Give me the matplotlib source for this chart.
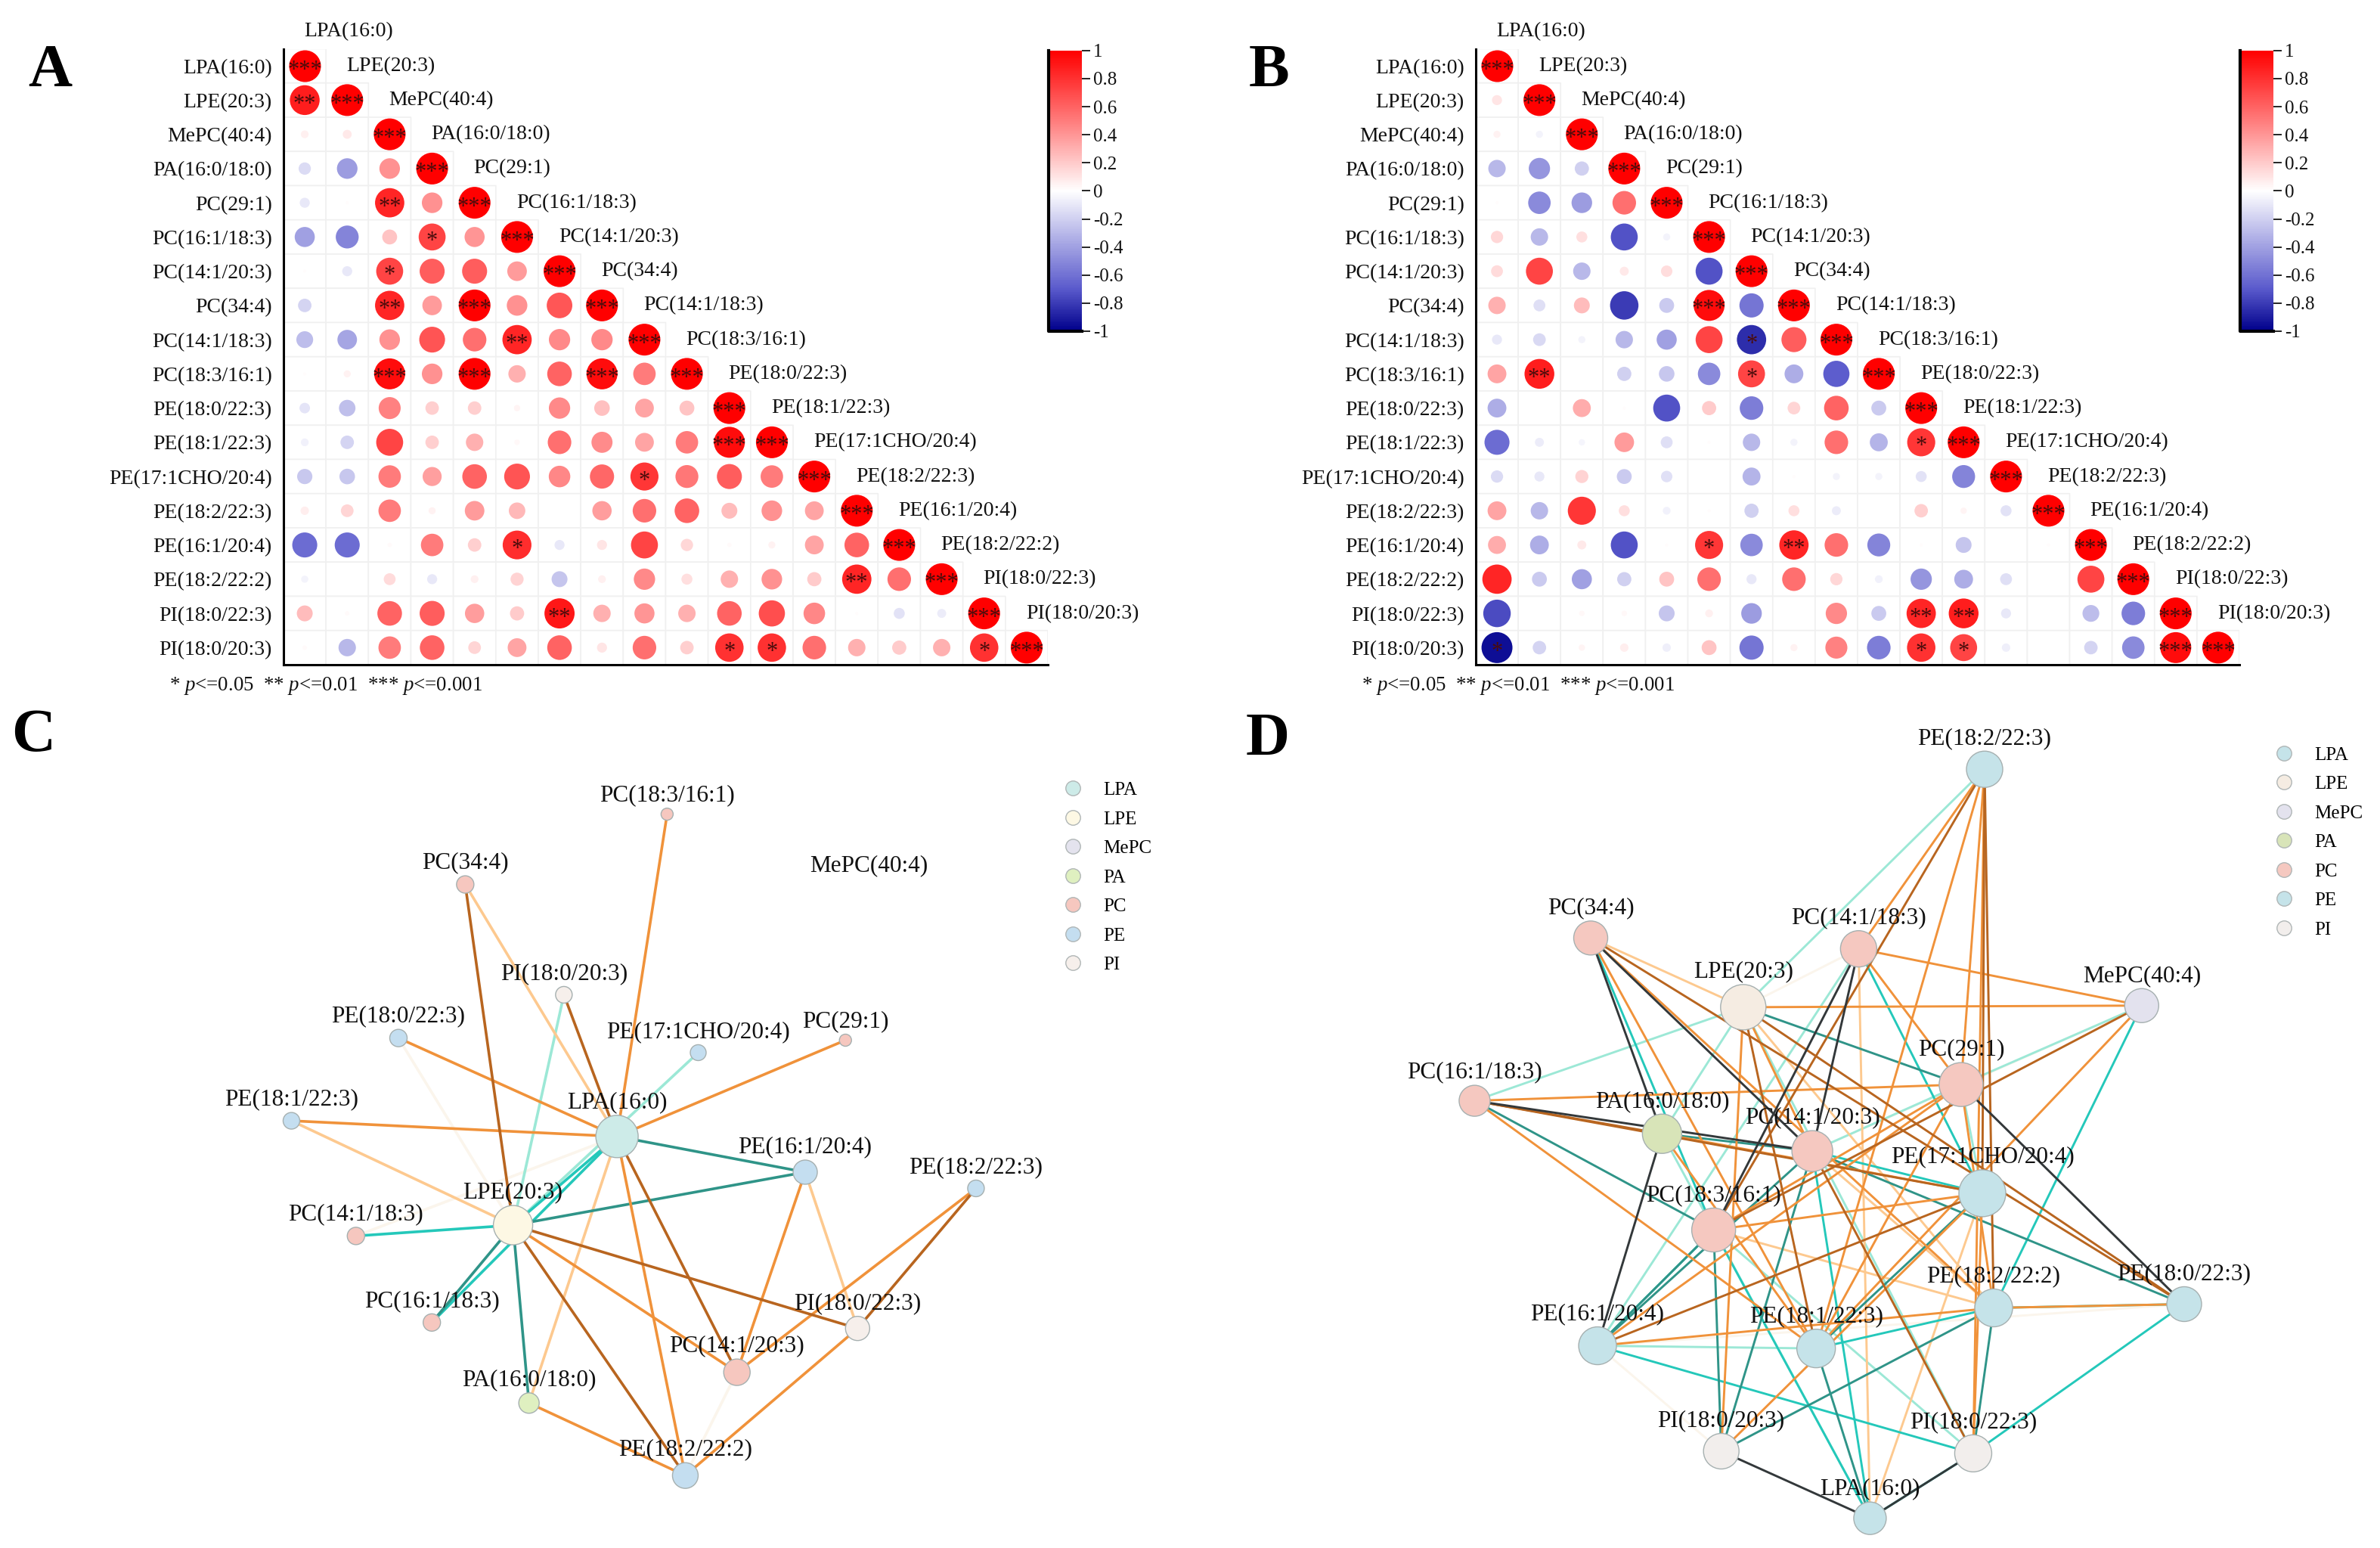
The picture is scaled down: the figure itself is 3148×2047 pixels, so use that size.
import numpy as np
import matplotlib
matplotlib.use('Agg')
import matplotlib.pyplot as plt
from matplotlib.colors import LinearSegmentedColormap, ListedColormap, Normalize
from matplotlib.cm import ScalarMappable
from matplotlib.lines import Line2D
from matplotlib.transforms import ScaledTranslation

plt.rcParams['font.family'] = ['Liberation Serif', 'DejaVu Serif']
plt.rcParams['mathtext.fontset'] = 'custom'
plt.rcParams['mathtext.rm'] = 'Liberation Serif'
plt.rcParams['mathtext.it'] = 'Liberation Serif:italic'

W, H = 3148, 2047

# Lipid names
LPA = 'LPA(16:0)'
LPE = 'LPE(20:3)'
MEPC = 'MePC(40:4)'
PA = 'PA(16:0/18:0)'
PC29 = 'PC(29:1)'
PC16 = 'PC(16:1/18:3)'
PC1420 = 'PC(14:1/20:3)'
PC34 = 'PC(34:4)'
PC1418 = 'PC(14:1/18:3)'
PC18 = 'PC(18:3/16:1)'
PE180 = 'PE(18:0/22:3)'
PE181 = 'PE(18:1/22:3)'
PE17 = 'PE(17:1CHO/20:4)'
PE223 = 'PE(18:2/22:3)'
PE161 = 'PE(16:1/20:4)'
PE222 = 'PE(18:2/22:2)'
PI223 = 'PI(18:0/22:3)'
PI203 = 'PI(18:0/20:3)'
lipids = [LPA, LPE, MEPC, PA, PC29, PC16, PC1420, PC34, PC1418, PC18,
          PE180, PE181, PE17, PE223, PE161, PE222, PI223, PI203]

# Correlation values, lower triangle, row by row
corr_a = [
    [1],
    [.88, 1],
    [.06, .08, 1],
    [-.15, -.42, .42, 1],
    [-.1, .01, .85, .42, 1],
    [-.4, -.52, .22, .72, .4, 1],
    [.01, -.1, .72, .62, .62, .38, 1],
    [-.18, 0, .85, .38, 1, .42, .65, 1],
    [-.28, -.38, .42, .66, .55, .85, .45, .45, 1],
    [.01, .05, .95, .42, 1, .3, .6, .95, .5, 1],
    [-.11, -.27, .48, .18, .18, .04, .45, .24, .35, .22, 1],
    [-.06, -.18, .72, .18, .3, .03, .55, .44, .35, .5, .95, 1],
    [-.23, -.24, .5, .36, .6, .66, .46, .58, .78, .52, .62, .5, 1],
    [.07, .16, .5, .05, .38, .27, 0, .37, .55, .6, .25, .42, .35, 1],
    [-.62, -.62, .02, .5, .18, .82, -.1, .1, .72, .15, .02, .05, .35, .6, 1],
    [-.05, 0, .14, -.1, .06, .17, -.25, .06, .45, .12, .3, .42, .2, .85, .55, 1],
    [.25, .02, .6, .62, .37, .2, .9, .3, .4, .3, .6, .68, .46, .01, -.12, -.08, 1],
    [.02, -.3, .5, .6, .16, .35, .6, .1, .55, .18, .8, .8, .55, .3, .2, .3, .8, 1],
]
corr_b = [
    [1],
    [.1, 1],
    [.05, -.05, 1],
    [-.3, -.45, -.2, 1],
    [.01, -.5, -.42, .55, 1],
    [.15, -.3, .12, -.72, -.05, 1],
    [.14, .72, -.3, .08, .13, -.72, 1],
    [.3, -.14, .25, -.8, -.22, .95, -.58, 1],
    [-.1, -.16, -.05, -.3, -.4, .72, -.85, .62, 1],
    [.35, .88, 0, -.2, -.24, -.5, .72, -.35, -.68, 1],
    [-.35, 0, .32, .01, -.72, .2, -.55, .16, .6, -.22, 1],
    [-.62, -.08, -.04, .38, -.14, .01, -.3, -.05, .55, -.32, .78, 1],
    [-.15, -.1, .17, -.22, -.13, 0, -.32, .01, -.05, -.05, -.12, -.52, 1],
    [.35, -.3, .78, .12, -.06, .01, -.2, .12, -.08, 0, .18, .04, -.12, 1],
    [.32, -.35, .08, -.72, .01, .78, -.5, .85, .55, -.52, .01, -.25, 0, .01, 1],
    [.85, -.22, -.4, -.2, .22, .55, -.1, .55, .15, -.06, -.45, -.35, -.14, 0, .72, 1],
    [-.75, 0, .03, .03, -.25, .06, -.42, 0, .45, -.22, .85, .88, -.1, 0, -.28, -.55, 1],
    [-.95, -.18, .04, .07, -.07, .22, -.58, .05, .48, -.55, .8, .72, -.07, 0, -.18, -.5, .95, 1],
]

# Significance stars off the diagonal: (row, column, number of stars)
stars_a = [(1, 0, 2), (4, 2, 2), (5, 3, 1), (6, 2, 1), (7, 2, 2), (7, 4, 3), (8, 5, 2),
           (9, 2, 3), (9, 4, 3), (9, 7, 3), (11, 10, 3), (12, 8, 1), (14, 5, 1),
           (15, 13, 2), (16, 6, 2), (17, 10, 1), (17, 11, 1), (17, 16, 1)]
stars_b = [(7, 5, 3), (8, 6, 1), (9, 1, 2), (9, 6, 1), (11, 10, 1), (14, 5, 1), (14, 7, 2),
           (16, 10, 2), (16, 11, 2), (17, 0, 1), (17, 10, 1), (17, 11, 1), (17, 16, 3)]

cbar_ticks = [1, .8, .6, .4, .2, 0, -.2, -.4, -.6, -.8, -1]

# Network C: layout position and node size
c_nodes = [LPA, LPE, PC18, PC34, PI203, PE180, PE17, PC29, PE181, PE161, PE223,
           PC1418, PC16, PI223, PC1420, PA, PE222]
c_x = [813, 676, 879, 613, 743, 525, 920, 1114, 384, 1061, 1286, 469, 569, 1130, 971, 697, 903]
c_y = [801, 965, 205, 335, 539, 619, 646, 623, 772, 867, 897, 985, 1145, 1156, 1237, 1294, 1428]
c_size = [56, 52, 16, 23, 22, 23, 21, 16, 22, 32, 22, 23, 23, 32, 35, 27, 34]
c_group = ['LPA', 'LPE', 'PC', 'PC', 'PI', 'PE', 'PE', 'PC', 'PE', 'PE', 'PE',
           'PC', 'PC', 'PI', 'PC', 'PA', 'PE']

c_orange = [(PC18, LPA), (PE180, LPA), (PC29, LPA), (PE181, LPA), (LPA, PE222), (LPE, PC1420),
            (PE161, PC1420), (PE223, PC1420), (PI223, PE222), (PA, PE222)]
c_light = [(PC34, LPA), (PE181, LPE), (LPA, PA), (PE161, PI223)]
c_brown = [(PC34, LPE), (PI203, LPA), (LPE, PE222), (LPA, PC1420), (LPE, PI223), (PE223, PI223)]
c_teal = [(LPA, PE161), (LPE, PE161), (LPE, PC16), (LPE, PA)]
c_turq = [(LPA, LPE), (PC1418, LPE), (LPA, PC16)]
c_aqua = [(PI203, LPE), (PE17, LPE)]
c_pale = [(PE180, LPE), (PC1418, LPA), (PC1420, PE222)]

# Network D
d_nodes = [PE223, PC34, PC1418, LPE, MEPC, PC29, PC16, PA, PC1420, PE17, PC18,
           PE222, PE180, PE161, PE181, PI203, PI223, LPA]
d_x = [1047, 528, 881, 729, 1254, 1016, 375, 622, 820, 1044, 690, 1059, 1310, 537, 825, 700, 1032, 896]
d_y = [122, 434, 454, 562, 559, 705, 735, 796, 828, 906, 974, 1118, 1111, 1188, 1193, 1383, 1387, 1507]
d_size = [48, 45, 48, 60, 45, 58, 41, 52, 54, 62, 58, 50, 46, 50, 51, 47, 49, 43]
d_group = ['PE', 'PC', 'PC', 'LPE', 'MePC', 'PC', 'PC', 'PA', 'PC', 'PE', 'PC',
           'PE', 'PE', 'PE', 'PE', 'PI', 'PI', 'LPA']

d_orange = [(PE223, PC1418), (PE223, PC29), (PE223, PE181), (PE223, PI223), (PC34, PE222), (PC34, PE181),
            (PC1418, MEPC), (PC1418, PC29), (LPE, MEPC), (LPE, PC1420), (LPE, PI203), (MEPC, PE181),
            (PC29, PC16), (PC29, PC18), (PC29, PE222), (PC29, PE181), (PC29, PE161), (PC16, PE181),
            (PA, PE17), (PA, PE181), (PE17, PC18), (PE17, PI203), (PE17, PI223), (PE222, PE180),
            (PE222, PE161)]
d_light = [(PC34, LPE), (LPE, PE222), (PC1420, PE222), (PE17, LPA), (PC18, PE222), (PC1418, LPA)]
d_brown = [(PE223, PC18), (PE223, PE17), (PE223, PE222), (PC34, PE180), (LPE, PE180), (LPE, PE181),
           (MEPC, PC18), (PC16, PA), (PC16, PE17), (PC1420, PI223), (PE17, PE161)]
d_teal = [(LPE, PC29), (PA, PC1420), (PC1420, PE180), (PC1420, PE161), (PC1420, PI203), (PC16, PC18),
          (PE17, PE181), (PC18, PE161), (PC18, PI203), (PE222, PI203), (PE222, PI223), (PE181, LPA)]
d_turq = [(PC34, PC18), (PC1418, PE17), (MEPC, PE222), (PC1420, PE17), (PC1420, LPA), (PC18, LPA),
          (PC18, PE161), (PE222, PE180), (PE222, PE181), (PE180, PI223), (PE161, PI223), (PI223, LPA)]
d_aqua = [(PE223, LPE), (PC1418, PE161), (LPE, PC16), (LPE, PA), (LPE, PI223), (MEPC, PC29),
          (PC29, PC1420), (PC29, PE17), (PA, LPA), (PC18, PI223), (PE161, PE181)]
d_dark = [(PC34, PA), (PC34, PC1420), (PC1418, PC18), (PC1418, PC1420), (PC29, PE180), (PC16, PC1420),
          (PA, PE161), (PI203, LPA), (PI223, LPA)]
d_pale = [(MEPC, PC1420), (PE180, PE161), (PE161, PI203), (LPE, PC1418)]

legend_groups = ['LPA', 'LPE', 'MePC', 'PA', 'PC', 'PE', 'PI']
c_colors = {'LPA': '#cdebe8', 'LPE': '#fdf8e4', 'MePC': '#e4e3ee', 'PA': '#dff0c0',
            'PC': '#f6c7bf', 'PE': '#c4def0', 'PI': '#f6efeb'}
d_colors = {'LPA': '#c5e3e9', 'LPE': '#f5ece2', 'MePC': '#e3e2ee', 'PA': '#d8e4b8',
            'PC': '#f5c8c0', 'PE': '#c5e3e9', 'PI': '#f2eeec'}

ORANGE, LIGHT, BROWN = '#f0923a', '#fdc98f', '#b8651f'
TEAL, TURQ, AQUA, PALE, DARK = '#2f9488', '#24c8ba', '#9ce8d6', '#fbf5ec', '#33383a'

cmap = LinearSegmentedColormap.from_list('corr', [(0, '#00008b'), (.15, '#5a5acc'), (.5, '#ffffff'),
                                                  (.75, '#ff7c7c'), (1, '#ff0000')])
norm = Normalize(-1, 1)

fig = plt.figure(figsize=(W / 100, H / 100), dpi=100, facecolor='white')
star_shift = ScaledTranslation(0, -6 / 100, fig.dpi_scale_trans)


def px_axes(left, top, right, bottom):
    return fig.add_axes([left / W, 1 - bottom / H, (right - left) / W, (bottom - top) / H])


def corr_panel(left, right, cbar_left, rows, stars):
    ax = px_axes(left, 64.5, right, 879)
    n = len(lipids)
    grid = np.ma.masked_where(np.triu(np.ones((n, n)), 1) > 0, np.zeros((n, n)))
    ax.pcolor(np.arange(n + 1) - .5, np.arange(n + 1) - .5, grid,
              cmap=ListedColormap(['white']), edgecolors='#f0f0f0', linewidth=1.2)
    star_text = [(i, i, 3) for i in range(n)] + stars
    for i, row in enumerate(rows):
        vals = np.array(row)
        ax.scatter(np.arange(len(vals)), np.full(len(vals), i), s=915 * np.abs(vals),
                   c=vals, cmap=cmap, norm=norm, linewidths=0, zorder=3)
        ax.text(i - .02, i - 1, lipids[i], ha='left', va='center', fontsize=20, color='#111111')
    for r, c, k in star_text:
        ax.text(c, r, '*' * k, ha='center', va='center', fontsize=22, color='#4a0c0c', zorder=4,
                transform=ax.transData + star_shift)
    ax.set_xlim(-.5, n - .5)
    ax.set_ylim(n - .5, -.5)
    ax.set_xticks([])
    ax.set_yticks(np.arange(n))
    ax.set_yticklabels(lipids, fontsize=20, color='#111111')
    ax.tick_params(axis='y', length=0, pad=11)
    for s in ['top', 'right']:
        ax.spines[s].set_visible(False)
    for s in ['left', 'bottom']:
        ax.spines[s].set_linewidth(2.2)
    ax.annotate(r'* $\mathit{p}$<=0.05  ** $\mathit{p}$<=0.01  *** $\mathit{p}$<=0.001',
                xy=(0, 0), xycoords='axes fraction', xytext=(-109, -20), textcoords='offset points',
                ha='left', va='center', fontsize=19.4, color='#111111')

    cax = px_axes(cbar_left, 66.8, cbar_left + 44, 438)
    cb = fig.colorbar(ScalarMappable(norm=norm, cmap=cmap), cax=cax, ticks=cbar_ticks)
    cb.ax.set_yticklabels([f'{t:g}' for t in cbar_ticks], fontsize=18, color='#111111')
    cb.ax.tick_params(length=8, width=1.2, pad=3)
    cb.outline.set_visible(False)
    cb.ax.plot([0, 0, 1], [1, -1, -1], color='black', lw=3, clip_on=False, zorder=5)
    return ax


def network_panel(left, top, right, bottom, names, xs, ys, sizes, groups, colors, edges, legend_xy, lw):
    ax = px_axes(left, top, right, bottom)
    ax.set_xlim(0, 1568)
    ax.set_ylim(1562, 0)
    ax.axis('off')
    pos = {name: (x, y) for name, x, y in zip(names, xs, ys)}
    for pairs, col in edges:
        for a, b in pairs:
            ax.plot([pos[a][0], pos[b][0]], [pos[a][1], pos[b][1]], color=col, lw=lw, zorder=1,
                    solid_capstyle='round')
    ax.scatter(xs, ys, s=(np.array(sizes) * .72) ** 2, c=[colors[g] for g in groups],
               edgecolors='#a6b0b0', linewidths=1, zorder=2)
    for name, x, y, d in zip(names, xs, ys, sizes):
        ax.annotate(name, xy=(x, y), xytext=(0, (d / 2 + 17) * .72), textcoords='offset points',
                    ha='center', va='center', fontsize=22.5, color='#111111', zorder=3)
    handles = [Line2D([], [], ls='', marker='o', ms=14, mfc=colors[g], mec='#b0b6b6', mew=1, label=g)
               for g in legend_groups]
    ax.legend(handles=handles, loc='upper left', bbox_to_anchor=legend_xy, bbox_transform=ax.transData,
              frameon=False, fontsize=18, labelspacing=.64, handletextpad=1.1, borderpad=0, borderaxespad=0,
              handlelength=1)
    return ax


corr_panel(375, 1386, 1387, corr_a, stars_a)
corr_panel(1952, 2962, 2963, corr_b, stars_b)

c_edges = [(c_pale, PALE), (c_aqua, AQUA), (c_light, LIGHT), (c_turq, TURQ), (c_teal, TEAL),
           (c_orange, ORANGE), (c_brown, BROWN)]
d_edges = [(d_pale, PALE), (d_aqua, AQUA), (d_light, LIGHT), (d_turq, TURQ), (d_teal, TEAL),
           (d_orange, ORANGE), (d_brown, BROWN), (d_dark, DARK)]

ax_c = network_panel(0, 930, 1574, 2047, c_nodes, c_x, c_y, c_size, c_group, c_colors, c_edges, (1401, 145), 2.6)
ax_c.annotate(MEPC, xy=(1145, 300), ha='center', va='center', fontsize=22.5, color='#111111')
network_panel(1574, 930, 3148, 2047, d_nodes, d_x, d_y, d_size, d_group, d_colors, d_edges, (1429, 80), 2.1)

# Panel letters
for letter, x, y in [('A', 66, 94), ('B', 1679, 94), ('C', 44, 974), ('D', 1677, 979)]:
    fig.text(x / W, 1 - y / H, letter, ha='center', va='center', fontsize=58, fontweight='bold', color='black')

fig.savefig('out.png', dpi=100, facecolor='white')
